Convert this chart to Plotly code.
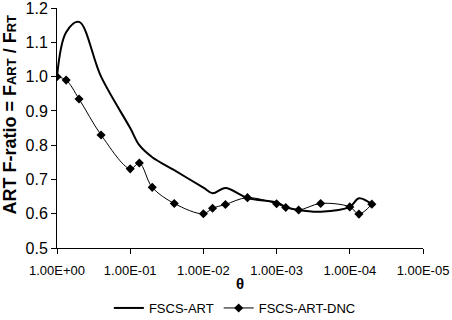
import plotly.graph_objects as go

theta = [1, 0.75, 0.5, 0.25, 0.1, 0.075, 0.05, 0.025, 0.01, 0.0075, 0.005,
         0.0025, 0.001, 0.00075, 0.0005, 0.00025, 0.0001, 0.000075, 0.00005]
fscs_art = [1.0, 1.13, 1.16, 1.0, 0.85, 0.80, 0.765, 0.727, 0.676, 0.66, 0.675,
            0.646, 0.633, 0.62, 0.611, 0.606, 0.62, 0.645, 0.628]
fscs_art_dnc = [1.0, 0.99, 0.935, 0.83, 0.731, 0.748, 0.677, 0.630, 0.600, 0.616, 0.627,
                0.647, 0.629, 0.618, 0.611, 0.630, 0.620, 0.599, 0.628]

x_tickvals = [1, 1e-1, 1e-2, 1e-3, 1e-4, 1e-5]
x_ticktext = ["1.00E+00", "1.00E-01", "1.00E-02", "1.00E-03", "1.00E-04", "1.00E-05"]
y_tickvals = [0.5, 0.6, 0.7, 0.8, 0.9, 1.0, 1.1, 1.2]
y_ticktext = ["0.5", "0.6", "0.7", "0.8", "0.9", "1.0", "1.1", "1.2"]

FONT = "Liberation Sans, Arial, sans-serif"

fig = go.Figure()
fig.add_trace(go.Scatter(
    x=theta, y=fscs_art, name="FSCS-ART", mode="lines",
    line=dict(color="black", width=2, shape="spline", smoothing=1.0),
))
fig.add_trace(go.Scatter(
    x=theta, y=fscs_art_dnc, name="FSCS-ART-DNC", mode="lines+markers",
    line=dict(color="black", width=1, shape="spline", smoothing=1.0),
    marker=dict(symbol="diamond", size=7, color="black"),
))

fig.update_layout(
    width=452, height=320,
    margin=dict(l=57, r=29, t=8, b=72, autoexpand=False),
    paper_bgcolor="white", plot_bgcolor="white",
    font=dict(family=FONT, color="black", size=13),
    showlegend=True,
    legend=dict(orientation="h", x=0.486, xanchor="center", y=-0.25, yanchor="middle",
                font=dict(size=13), itemwidth=30, tracegroupgap=0,
                bgcolor="rgba(0,0,0,0)"),
    xaxis=dict(type="log", range=[0, -5], tickvals=x_tickvals, ticktext=x_ticktext,
               showline=True, linecolor="black", linewidth=1,
               ticks="outside", ticklen=5, tickcolor="black", ticklabelstandoff=5,
               showgrid=False, zeroline=False, tickfont=dict(size=13)),
    yaxis=dict(range=[0.5, 1.2005], tickvals=y_tickvals, ticktext=y_ticktext,
               showline=True, linecolor="black", linewidth=1,
               ticks="outside", ticklen=5, tickcolor="black",
               ticklabeloverflow="allow",
               showgrid=False, zeroline=False, tickfont=dict(size=16)),
    annotations=[
        dict(text="<b>θ</b>", xref="paper", yref="paper", x=0.5, y=-0.146,
             xanchor="center", yanchor="middle", showarrow=False, font=dict(size=15)),
        dict(text="<b>ART F-ratio = F<span style='font-size:13px'>ART</span> / F<span style='font-size:13px'>RT</span></b>",
             xref="paper", yref="paper", x=0, xshift=-47, y=0.556,
             xanchor="center", yanchor="middle", textangle=-90, showarrow=False,
             font=dict(size=18)),
    ],
)

fig.write_html("out.html")
